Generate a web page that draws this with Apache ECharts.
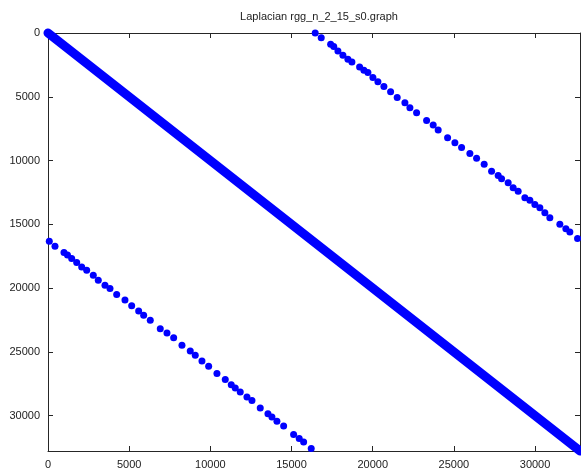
<!DOCTYPE html>
<html>
<head>
<meta charset="utf-8">
<script src="https://cdn.jsdelivr.net/npm/echarts@6/dist/echarts.min.js"></script>
<style>
  html, body { margin: 0; padding: 0; background: #fff; }
  #root { width: 581px; height: 470px; }
</style>
</head>
<body>
<div id="root"></div>
<script>
// 矩阵大小 2^15
const N = 32768
const titleText = 'Laplacian rgg_n_2_15_s0.graph'
const tickStep = 5000

// 主对角线带 (column, row)
const diagonal = [[0, 0], [32768, 32768]]

// 右上方的稀疏带 (column, row)
const upperBand = [
  [16459, 0], [16829, 367], [17408, 883], [17600, 1050], [17857, 1406], [18165, 1742],
  [18473, 2055], [18719, 2266], [19193, 2656], [19458, 2914], [19704, 3102],
  [20012, 3492], [20320, 3828], [20690, 4195], [21102, 4609], [21509, 5055],
  [21983, 5469], [22291, 5859], [22703, 6250], [23319, 6852], [23725, 7211],
  [24033, 7602], [24612, 8203], [25062, 8594], [25474, 8984], [25985, 9453],
  [26398, 9820], [26866, 10289], [27322, 10836], [27728, 11172], [27937, 11430],
  [28343, 11742], [28651, 12133], [28959, 12398], [29372, 12914], [29680, 13102],
  [29988, 13438], [30296, 13695], [30603, 14086], [30911, 14477], [31527, 15000],
  [31897, 15336], [32143, 15602], [32617, 16117]
]

// 左下方的稀疏带 (column, row)
const lowerBand = [
  [80, 16328], [431, 16719], [985, 17211], [1200, 17400], [1459, 17680], [1767, 17992],
  [2075, 18336], [2383, 18594], [2789, 18984], [3097, 19375], [3510, 19766],
  [3818, 20023], [4230, 20492], [4741, 20938], [5154, 21383], [5585, 21797],
  [5893, 22133], [6299, 22523], [6915, 23180], [7328, 23516], [7740, 23883],
  [8251, 24477], [8762, 24922], [9070, 25258], [9483, 25703], [9895, 26117],
  [10406, 26695], [10918, 27164], [11287, 27578], [11533, 27836], [11841, 28148],
  [12254, 28539], [12562, 28805], [13073, 29398], [13547, 29844], [13793, 30102],
  [14101, 30445], [14514, 30805], [15129, 31484], [15474, 31797], [15745, 32055],
  [16213, 32578]
]

let myChart = echarts.init(document.querySelector('#root'))

const font = 'Liberation Sans, Arial, sans-serif'
const lineCol = '#262626'

function makeAxis(pos, showLabel) {
  return {
    type: 'value',
    position: pos,
    min: 0,
    max: N,
    interval: tickStep,
    splitLine: { show: false },
    axisLine: { show: true, onZero: false, lineStyle: { color: lineCol, width: 1 } },
    axisTick: { show: true, inside: true, length: 5, lineStyle: { color: lineCol } },
    axisLabel: {
      show: showLabel,
      showMaxLabel: false,
      color: '#222',
      fontSize: 11,
      fontFamily: font,
      margin: 8,
      formatter: v => String(v)
    }
  }
}

let yLeft = makeAxis('left', true)
yLeft.inverse = true
let yRight = makeAxis('right', false)
yRight.inverse = true

let option = {
  animation: false,
  backgroundColor: '#fff',
  title: {
    text: titleText,
    left: 314,
    textAlign: 'center',
    top: 6,
    textStyle: { fontSize: 11, fontWeight: 'normal', color: '#222', fontFamily: font }
  },
  grid: { left: 48, right: 1, top: 33, bottom: 18, containLabel: false },
  xAxis: [makeAxis('bottom', true), makeAxis('top', false)],
  yAxis: [yLeft, yRight],
  series: [
    {
      type: 'line',
      data: diagonal,
      symbol: 'none',
      clip: false,
      lineStyle: { color: '#0000ff', width: 9, cap: 'round' }
    },
    {
      type: 'scatter',
      data: upperBand,
      symbolSize: 7,
      clip: false,
      itemStyle: { color: '#0000ff', opacity: 1 }
    },
    {
      type: 'scatter',
      data: lowerBand,
      symbolSize: 7,
      clip: false,
      itemStyle: { color: '#0000ff', opacity: 1 }
    }
  ]
}

myChart.setOption(option)
</script>
</body>
</html>
